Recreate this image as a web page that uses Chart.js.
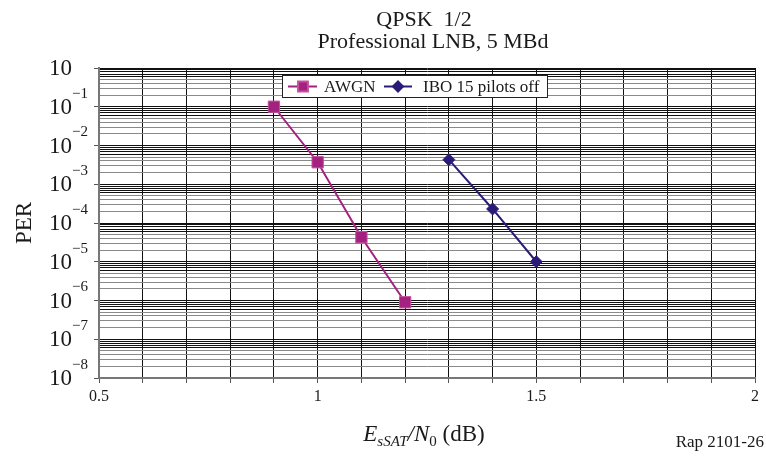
<!DOCTYPE html>
<html>
<head>
<meta charset="utf-8">
<script src="https://cdn.jsdelivr.net/npm/chart.js@4.4.0/dist/chart.umd.min.js"></script>
<style>
  html, body { margin: 0; padding: 0; background: #fff; }
  #wrap { width: 766px; height: 457px; }
</style>
</head>
<body>
<div id="wrap"><canvas id="per"></canvas></div>
<script>
// PER curves, QPSK 1/2
const awgnX = [0.9, 1.0, 1.1, 1.2]
const awgnPer = [1e-1, 3.7e-3, 4.3e-5, 9e-7]
const iboX = [1.3, 1.4, 1.5]
const iboPer = [4.3e-3, 2.3e-4, 1e-5]

const seriesNames = ['AWGN', 'IBO 15 pilots off']
const seriesColors = ['#a3217f', '#2c1a78']
const titleLines = ['QPSK  1/2', 'Professional LNB, 5 MBd']
const xLabels = [0.5, 1, 1.5, 2]
const yExponents = [0, -1, -2, -3, -4, -5, -6, -7, -8]

const serif = "'Liberation Serif', 'DejaVu Serif', serif"

// every 1..9 step of each decade gets a grid line
const yTickValues = []
for (let e = -8; e < 0; e++) {
  for (let k = 1; k <= 9; k++) yTickValues.push(k * Math.pow(10, e))
}
yTickValues.push(1)

function significand(v) {
  const e = Math.floor(Math.log10(v) + 1e-9)
  return Math.round(v / Math.pow(10, e))
}

const decorations = {
  id: 'decorations',
  afterDraw(chart) {
    const { ctx, scales } = chart
    ctx.save()
    ctx.fillStyle = '#1a1a1a'

    // title
    ctx.font = `22px ${serif}`
    ctx.textAlign = 'center'
    ctx.textBaseline = 'alphabetic'
    ctx.fillText(titleLines[0], 424, 26)
    ctx.fillText(titleLines[1], 433, 48)

    // y labels as powers of ten
    yExponents.forEach(e => {
      const y = scales.y.getPixelForValue(Math.pow(10, e))
      ctx.font = `23px ${serif}`
      ctx.textAlign = 'right'
      ctx.textBaseline = 'middle'
      ctx.fillText('10', 72, y + 1)
      if (e !== 0) {
        ctx.font = `15px ${serif}`
        ctx.textAlign = 'left'
        ctx.fillText('\u2212' + Math.abs(e), 72, y - 13)
      }
    })

    // y title
    ctx.save()
    ctx.translate(25, 223)
    ctx.rotate(-Math.PI / 2)
    ctx.font = `23px ${serif}`
    ctx.textAlign = 'center'
    ctx.textBaseline = 'middle'
    ctx.fillText('PER', 0, 0)
    ctx.restore()

    // x title: EsSAT/N0 (dB)
    const parts = [
      { t: 'E', f: `italic 23px ${serif}`, dy: 0 },
      { t: 'sSAT', f: `italic 15px ${serif}`, dy: 5 },
      { t: '/N', f: `italic 23px ${serif}`, dy: 0 },
      { t: '0', f: `15px ${serif}`, dy: 5 },
      { t: ' (dB)', f: `23px ${serif}`, dy: 0 }
    ]
    ctx.textAlign = 'left'
    ctx.textBaseline = 'alphabetic'
    let total = 0
    parts.forEach(p => { ctx.font = p.f; p.w = ctx.measureText(p.t).width; total += p.w })
    let x = 424 - total / 2
    parts.forEach(p => { ctx.font = p.f; ctx.fillText(p.t, x, 441 + p.dy); x += p.w })

    ctx.font = `17px ${serif}`
    ctx.textAlign = 'right'
    ctx.fillText('Rap 2101-26', 764, 447)

    // legend
    ctx.fillStyle = '#fff'
    ctx.fillRect(283, 75, 264, 22)
    ctx.strokeStyle = '#222'
    ctx.lineWidth = 1
    ctx.strokeRect(282.5, 75.5, 265, 22)
    const ly = 86.5
    const entries = [
      { x0: 288, x1: 317, mx: 303, tx: 324, ds: chart.data.datasets[0] },
      { x0: 384, x1: 412, mx: 398, tx: 423, ds: chart.data.datasets[1] }
    ]
    entries.forEach(en => {
      ctx.strokeStyle = en.ds.borderColor
      ctx.lineWidth = 2
      ctx.beginPath()
      ctx.moveTo(en.x0, ly)
      ctx.lineTo(en.x1, ly)
      ctx.stroke()
      ctx.fillStyle = en.ds.pointBackgroundColor
      ctx.strokeStyle = en.ds.pointBorderColor
      Chart.helpers.drawPoint(ctx, {
        pointStyle: en.ds.pointStyle,
        radius: en.ds.pointRadius - 1,
        rotation: 0,
        borderWidth: 1
      }, en.mx, ly)
      ctx.fillStyle = '#1a1a1a'
      ctx.font = `17px ${serif}`
      ctx.textAlign = 'left'
      ctx.textBaseline = 'middle'
      ctx.fillText(en.ds.label, en.tx, ly + 1)
    })
    ctx.restore()
  }
}

new Chart(document.getElementById('per'), {
  type: 'line',
  data: {
    datasets: [
      {
        label: seriesNames[0],
        data: awgnX.map((x, i) => ({ x, y: awgnPer[i] })),
        borderColor: seriesColors[0],
        backgroundColor: seriesColors[0],
        pointBackgroundColor: seriesColors[0],
        pointBorderColor: '#c4509e',
        pointStyle: 'rect',
        pointRadius: 8,
        pointBorderWidth: 1,
        borderWidth: 2
      },
      {
        label: seriesNames[1],
        data: iboX.map((x, i) => ({ x, y: iboPer[i] })),
        borderColor: seriesColors[1],
        backgroundColor: seriesColors[1],
        pointBackgroundColor: seriesColors[1],
        pointBorderColor: seriesColors[1],
        pointStyle: 'rectRot',
        pointRadius: 6,
        pointBorderWidth: 1,
        borderWidth: 2
      }
    ]
  },
  options: {
    responsive: true,
    maintainAspectRatio: false,
    animation: false,
    layout: { padding: { top: 68, right: 11, left: 0, bottom: 0 } },
    plugins: {
      legend: { display: false },
      title: { display: false },
      tooltip: { enabled: false }
    },
    scales: {
      x: {
        type: 'linear',
        min: 0.5,
        max: 2,
        afterFit: s => { s.height = 79 },
        border: { color: '#777', width: 2 },
        grid: { color: '#111', lineWidth: 1, tickLength: 5, tickColor: '#555' },
        ticks: {
          stepSize: 0.1,
          autoSkip: false,
          maxRotation: 0,
          padding: 4,
          color: '#1a1a1a',
          font: { family: serif, size: 16 },
          callback: v => {
            const hit = xLabels.find(l => Math.abs(l - v) < 1e-6)
            return hit === undefined ? '' : String(hit)
          }
        }
      },
      y: {
        type: 'logarithmic',
        min: 1e-8,
        max: 1,
        afterFit: s => { s.width = 99 },
        afterBuildTicks: s => { s.ticks = yTickValues.map(value => ({ value })) },
        border: { color: '#777', width: 2 },
        grid: {
          lineWidth: 1,
          tickLength: 5,
          color: c => {
            const k = significand(c.tick.value)
            return (k === 1 || k >= 6) ? '#111' : '#8a8a8a'
          },
          tickColor: c => significand(c.tick.value) === 1 ? '#555' : 'rgba(0,0,0,0)'
        },
        ticks: { display: false, autoSkip: false }
      }
    }
  },
  plugins: [decorations]
})
</script>
</body>
</html>
